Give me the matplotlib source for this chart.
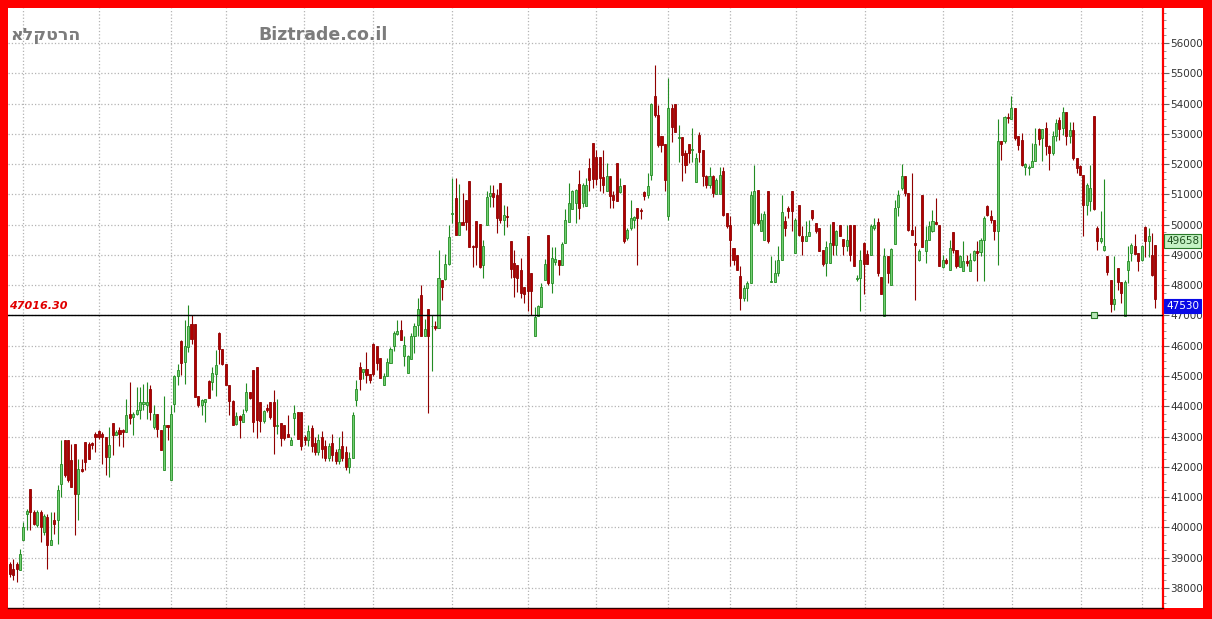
import matplotlib
matplotlib.use("Agg")
import matplotlib.pyplot as plt
from matplotlib.patches import Rectangle
from matplotlib.ticker import MultipleLocator
import numpy as np

# daily candles
opens = [
    38805, 38640, 38805, 38607, 39597, 40455, 41258, 40510, 40070, 40510, 39850, 40345, 39410, 40235, 40257,
    41445, 42875, 42875, 42215, 42765, 41093, 41940, 42820, 42765, 42787, 43095, 43183, 43095, 42985, 42325,
    43447, 43040, 43205, 43205, 43150, 43733, 43645, 43733, 43887, 44085, 44030, 44580, 43315, 43755, 43227,
    41907, 43370, 41555, 44085, 44987, 46153, 45460, 45955, 46703, 46725, 44327, 44030, 44140, 44833, 44800,
    45075, 46428, 45900, 45383, 44690, 44173, 43403, 43667, 43480, 43887, 44470, 45207, 45295, 44140, 43502,
    43953, 44140, 44140, 43337, 43447, 43370, 43095, 42710, 43612, 43810, 43810, 42985,
    42900, 43300, 42800, 42500, 43000, 42700, 42300, 42800, 42500, 42200, 42700, 42500, 42000, 42300,
    44217, 45284, 45119, 45229, 45075, 46054, 45977, 45592, 44712, 44987, 45427, 45977, 46395, 46505, 45647,
    45097, 45559, 46329, 46692, 47682, 46307, 47209, 46637, 46637, 46582, 48177, 48199, 48705, 50344, 50872,
    49662, 50102, 50817, 51455, 49299, 50135, 50025, 48672, 49992, 50949, 51059, 50982, 51389, 50157, 50289,
    49475, 48727, 48672, 48507, 47935, 49629, 48419, 46307, 46967, 47297, 48177, 49662, 48067, 48782, 48837,
    48672, 49409, 50102, 50509, 50729, 51345, 50707,
    50600, 51865, 52712, 52250, 52250, 51568, 51095, 51590, 50985, 52052, 51062, 51315, 49555, 49885, 50150,
    50545, 50490, 51073, 50985, 51645, 54252, 53625, 52932, 52668, 50292, 53845, 53988, 52855, 52888, 52360,
    52668, 52470, 51392, 52965, 52470, 51612, 51315, 51612, 51018, 51018, 51755, 50380, 49995, 49225, 49005,
    48290, 47575, 47905, 48070, 50050, 51128, 49775, 49500, 51117, 48092, 48092, 48400, 48840, 50105, 50545,
    51095, 49060, 50655, 49632, 49445, 49610, 50490, 50050, 49885, 49148, 48730, 48730, 50072, 49335, 49995,
    49522, 49280, 49995, 49995, 48202, 48235, 49390, 49038, 49005, 49885, 50100,
    48269, 46971, 48951, 48016, 49369, 50579, 51206, 51613, 51041, 49831, 49391, 48819, 50986, 49116, 49501,
    49776, 50073, 49996, 48599, 48841, 48511, 49743, 49149, 48599, 48456, 48786, 48456, 48819, 49116, 49083,
    49501, 50623, 50293, 50139, 49776, 52746, 52746, 53571, 53483, 53846, 52911, 52801, 51899, 51866, 51899,
    52086, 53153, 52856, 53186, 52581, 52361, 52911, 53461, 53186, 53736, 52911, 53131, 52196, 51921, 51646,
    50656, 50766, 53593, 49886, 49446, 49171, 48973, 48181, 47389, 48566, 48093, 46971, 48511, 49061, 49303,
    49061, 48841, 49919, 49446, 49006, 49336,
]
highs = [
    38860, 38970, 38860, 39300, 40180, 40620, 41280, 40565, 40565, 40565, 40455, 40455, 40510, 40510, 41390,
    42875, 42875, 42875, 42765, 42765, 42270, 42270, 42820, 42820, 42820, 43150, 43205, 43150, 42985, 43315,
    43447, 43205, 43315, 43260, 44250, 44800, 43810, 44635, 44635, 44745, 44800, 44690, 44030, 43755, 43227,
    44327, 43370, 44030, 45020, 45405, 46175, 46835, 47352, 47000, 46725, 44327, 44250, 44250, 44855, 45295,
    45845, 46450, 45900, 45383, 44690, 44195, 43810, 43700, 43920, 44767, 44470, 45207, 45295, 44140, 43887,
    44085, 44140, 44547, 44250, 43447, 43370, 43700, 42985, 44030, 43810, 43810, 43040,
    43400, 43400, 43000, 43100, 43200, 42900, 42800, 43100, 42600, 43000, 43200, 42700, 42500, 43800,
    44877, 45449, 45229, 45779, 45075, 46087, 45977, 45592, 45097, 45592, 45955, 46472, 46857, 46835, 46307,
    45702, 46417, 46747, 47572, 48012, 46879, 47209, 47022, 46802, 49167, 48177, 49035, 49992, 51532, 51532,
    51345, 51059, 50817, 51455, 49332, 50135, 50025, 49497, 51125, 51312, 51312, 51169, 51389, 50652, 50619,
    49475, 49167, 48672, 48892, 47935, 49629, 48419, 47297, 47352, 48089, 48859, 49662, 49277, 49255, 48837,
    49442, 50509, 51367, 51147, 51169, 51807, 51367,
    51535, 52195, 52712, 52470, 52250, 52470, 52052, 51590, 51095, 52052, 51535, 51315, 49885, 50798, 50300,
    50545, 50545, 51095, 51700, 54010, 55275, 53955, 52932, 52668, 54835, 53988, 53988, 53295, 52888, 52470,
    52668, 53185, 52360, 53075, 52470, 51645, 51920, 51645, 51535, 51920, 51920, 50380, 50270, 49225, 49005,
    48620, 48015, 48125, 51095, 51975, 51128, 50380, 50435, 51117, 48950, 48840, 49280, 50985, 50270, 50600,
    51095, 50215, 50655, 49940, 50105, 50160, 50490, 50050, 49885, 49148, 49445, 50017, 50072, 49830, 49995,
    49522, 49995, 49995, 49995, 48345, 49170, 49412, 49170, 50028, 50215, 50215,
    48269, 49226, 48951, 49226, 50821, 51151, 52009, 51613, 51041, 51701, 49941, 49193, 50986, 49941, 50106,
    50491, 50876, 49996, 49006, 48896, 49501, 49743, 49149, 49006, 49446, 49006, 49061, 49171, 49446, 49556,
    50271, 50656, 50491, 50161, 53483, 52746, 53593, 53703, 54253, 53846, 52911, 53021, 52031, 51976, 52691,
    53186, 53186, 53153, 53406, 52636, 53076, 53483, 53571, 53901, 53736, 53406, 53406, 52196, 51976, 51646,
    51371, 51976, 53593, 49941, 50436, 51503, 48973, 48181, 48973, 48566, 48093, 48159, 49281, 49391, 49699,
    49061, 49336, 49941, 49886, 49726, 49336,
]
lows = [
    38365, 38255, 38200, 38585, 39575, 39905, 39905, 40070, 40015, 39520, 39740, 38640, 39410, 39795, 39465,
    41005, 41665, 41500, 41335, 39740, 40235, 41830, 41885, 42270, 42600, 42490, 42930, 42105, 41720, 41665,
    42380, 43040, 42677, 42655, 43150, 43425, 43040, 43700, 43590, 43865, 43590, 43535, 43260, 42985, 42545,
    41885, 42875, 41555, 43810, 44690, 45020, 44745, 45790, 46065, 44305, 43975, 43700, 43480, 44283, 44525,
    44327, 45405, 45350, 44690, 43700, 43370, 43370, 42952, 43480, 43810, 44250, 43150, 42952, 43150, 43447,
    43810, 43590, 42435, 43095, 42677, 42897, 42985, 42710, 43040, 42930, 42567, 42710,
    42700, 42500, 42400, 42400, 42300, 42200, 42200, 42200, 42100, 42100, 42200, 41900, 41800, 42300,
    43997, 44547, 44899, 44767, 44767, 44987, 45207, 44932, 44712, 44987, 45427, 45812, 46362, 46197, 45317,
    45097, 45559, 45757, 46307, 46307, 46307, 43777, 45152, 46527, 46582, 47517, 48177, 48672, 50047, 49662,
    49662, 49992, 49827, 49255, 48617, 48672, 48562, 48232, 49992, 50597, 50597, 49717, 50047, 49662, 49937,
    48232, 47627, 47792, 47572, 47407, 47132, 47000, 46307, 46967, 47297, 48177, 48012, 47759, 48672, 48342,
    48672, 49409, 50102, 50509, 50047, 50179, 50597,
    50600, 51095, 51205, 51315, 51095, 51040, 51095, 50545, 50545, 50765, 51040, 49390, 49500, 49830, 49900,
    48675, 50182, 50798, 50875, 51480, 53570, 52580, 52415, 51095, 50160, 52745, 53075, 52085, 51425, 51700,
    52030, 52085, 51392, 52085, 51260, 51205, 51205, 50908, 51018, 51018, 50270, 49885, 48620, 48675, 48510,
    47190, 47465, 47465, 48070, 49995, 49995, 49775, 49500, 49390, 48092, 48092, 48290, 48840, 49610, 50215,
    49775, 49060, 49610, 49005, 49445, 49610, 50160, 49720, 49115, 48620, 48290, 48730, 49005, 49005, 49610,
    49005, 49115, 48785, 48620, 48125, 47135, 47715, 48708, 49005, 49830, 48300,
    47719, 46971, 48071, 48016, 49369, 50293, 51151, 50931, 49776, 49666, 47521, 48786, 49259, 48731, 49501,
    49743, 50029, 48621, 48566, 48709, 48511, 49061, 48566, 48599, 48456, 48621, 48456, 48786, 48126, 48951,
    48126, 50293, 50051, 49501, 48676, 52141, 52691, 53351, 53483, 52801, 52471, 51921, 51646, 51646, 51899,
    52086, 52636, 52086, 52306, 51811, 52306, 52746, 52801, 52966, 52636, 52691, 52141, 51701, 51646, 49611,
    50326, 50436, 50491, 49171, 49391, 49116, 48346, 47114, 47191, 47851, 47411, 46971, 48071, 48786, 49039,
    48456, 48786, 48941, 48941, 48291, 47246,
]
closes = [
    38475, 38420, 38640, 39135, 40015, 40532, 40510, 40125, 40510, 40015, 40367, 39410, 39597, 40125, 41247,
    42105, 41720, 41555, 41335, 41093, 41940, 41863, 42160, 42270, 42710, 42985, 42985, 42985, 42325, 42710,
    43040, 43150, 43095, 43150, 43700, 43612, 43755, 43887, 44140, 44140, 44140, 43810, 43733, 43260, 42545,
    43370, 43315, 43733, 44987, 45207, 45427, 45977, 46637, 46230, 44305, 44030, 44195, 44250, 44283, 45097,
    45350, 45900, 45383, 44690, 44162, 43370, 43667, 43535, 43733, 44470, 44283, 43480, 43535, 43513, 43843,
    43887, 43645, 43337, 43370, 42963, 42963, 42985, 42875, 43777, 42930, 42677, 42897,
    43200, 42700, 42500, 42900, 42600, 42300, 42700, 42400, 42200, 42600, 42300, 42000, 42300, 43700,
    44580, 44899, 45229, 45042, 44855, 45075, 45427, 44932, 44987, 45449, 45900, 46417, 46472, 46197, 46032,
    45647, 46329, 46659, 47209, 46307, 46549, 46307, 46659, 46582, 48232, 47957, 48705, 49607, 50399, 49662,
    50102, 49992, 50102, 49277, 49255, 49277, 48617, 49299, 50927, 51059, 50927, 50212, 50157, 50322, 50267,
    48529, 48265, 48232, 47737, 47715, 47825, 47825, 46945, 47319, 47957, 48705, 48067, 48892, 48859, 48672,
    49365, 50157, 50729, 51125, 51147, 50542, 51312,
    51315, 51480, 51502, 51502, 51535, 51315, 51590, 50930, 50820, 50765, 51282, 49445, 49830, 50215, 50250,
    50215, 50435, 50952, 51260, 53988, 53625, 52635, 52635, 51480, 53845, 53240, 53075, 52888, 52305, 51975,
    52382, 52492, 52195, 52415, 51590, 51315, 51590, 51040, 51480, 51645, 50325, 49940, 49500, 48840, 48510,
    47575, 47905, 48070, 50985, 51095, 50050, 50160, 50358, 49445, 48125, 48400, 48840, 50402, 49885, 50435,
    50435, 50160, 49665, 49445, 49610, 49742, 50215, 49775, 49115, 48708, 49258, 49390, 49335, 49775, 49610,
    49280, 49500, 48995, 48620, 48235, 48840, 48708, 48708, 49940, 49995, 48400,
    47719, 48951, 48401, 49193, 50546, 50986, 51613, 51041, 49831, 49666, 49336, 49116, 49259, 49501, 49941,
    50106, 50029, 48621, 48819, 48731, 49226, 49149, 48621, 48951, 48808, 48731, 48819, 49116, 49061, 49479,
    50216, 50326, 50139, 49776, 52746, 52669, 53571, 53516, 53846, 52856, 52636, 51976, 52009, 51899, 52086,
    52669, 52823, 53153, 52581, 52361, 52911, 53351, 53153, 53736, 52911, 53131, 52196, 51866, 51646, 50656,
    51316, 51206, 50513, 49446, 49556, 49281, 48423, 47389, 47543, 48093, 47741, 48093, 48786, 49336, 49039,
    48786, 49281, 49446, 49611, 48346, 47530,
]

level = 47016.30
level_idx = 316
side_value = 49658
last_value = 47530
yticks = list(range(38000, 57000, 1000))
month_lines = [3.9, 25.9, 46.9, 63.1, 85.8, 105.9, 128.9, 151.1, 170.9, 191.9, 210.0,
               229.3, 249.4, 272.1, 292.2, 312.3, 330.0]

o = np.array(opens)
h = np.array(highs)
l = np.array(lows)
c = np.array(closes)
x = np.arange(len(c))
up = c >= o

W, H = 1212, 619
fig = plt.figure(figsize=(W / 100, H / 100), dpi=100)
fig.patch.set_facecolor("#ff0000")
fig.add_artist(Rectangle((8 / W, 11 / H), (1203 - 8) / W, (608 - 8) / H,
                         transform=fig.transFigure, facecolor="white",
                         edgecolor="none", zorder=0))

ax = fig.add_axes([8 / W, 11 / H, (1163 - 8) / W, (608 - 8) / H])
ax.set_facecolor("white")
ax.set_xlim(-0.5, 336.2)
ax.set_ylim(37341, 57154)

# grid
for gx in month_lines:
    ax.axvline(gx, color="#b4b4b4", ls=":", lw=0.9, zorder=1)
for gy in yticks:
    ax.axhline(gy, color="#b4b4b4", ls=":", lw=0.9, zorder=1)

# candles
green_fill, green_edge = "#72cf72", "#238c23"
red_fill, red_edge = "#b00000", "#900000"
wick_col = np.where(up, green_edge, red_edge)
ax.vlines(x, l, h, colors=wick_col, lw=0.8, zorder=2)
body_h = np.maximum(np.abs(c - o), 25)
body_b = np.minimum(o, c)
ax.bar(x[up], body_h[up], bottom=body_b[up], width=0.6, color=green_fill,
       edgecolor=green_edge, linewidth=0.6, zorder=3)
ax.bar(x[~up], body_h[~up], bottom=body_b[~up], width=0.6, color=red_fill,
       edgecolor=red_edge, linewidth=0.6, zorder=3)

# level line
ax.axhline(level, color="black", lw=1.0, zorder=4)
ax.plot(level_idx, level, marker="s", ms=4.5, mfc="#b8e8b8", mec="#2a7a2a",
        mew=0.8, zorder=5)
ax.annotate(f"{level:.2f}", xy=(0, level), xycoords=("axes fraction", "data"),
            xytext=(1, 3), textcoords="offset points", ha="left", va="bottom",
            color="#e00000", fontsize=8, fontweight="bold", fontstyle="italic")

# right axis
ax.yaxis.tick_right()
ax.set_yticks(yticks)
ax.set_yticklabels([str(t) for t in yticks])
ax.yaxis.set_minor_locator(MultipleLocator(250))
ax.tick_params(axis="y", which="major", length=4, width=0.8, color="#666666",
               labelsize=7.5, labelcolor="#333333", pad=1.5)
ax.tick_params(axis="y", which="minor", length=2, width=0.6, color="#888888")
ax.set_xticks([])

for side in ["left", "top"]:
    ax.spines[side].set_visible(False)
ax.spines["right"].set_color("#ff0000")
ax.spines["right"].set_linewidth(1.6)
ax.spines["bottom"].set_color("#300000")
ax.spines["bottom"].set_linewidth(1.0)

# price boxes on the right
ax.annotate(str(side_value), xy=(1, side_value), xycoords=("axes fraction", "data"),
            xytext=(2.2, -4.5), textcoords="offset points", ha="left", va="center",
            fontsize=7.5, color="#1e4e1e", annotation_clip=False, zorder=6,
            bbox=dict(boxstyle="square,pad=0.2", fc="#c4f2c4", ec="#2a7a2a", lw=0.8))
ax.annotate(str(last_value), xy=(1, last_value), xycoords=("axes fraction", "data"),
            xytext=(2.2, -4.5), textcoords="offset points", ha="left", va="center",
            fontsize=7.5, color="white", annotation_clip=False, zorder=6,
            bbox=dict(boxstyle="square,pad=0.2", fc="#0a0ae6", ec="#0a0ae6", lw=0.8))

# header texts
fig.text(10 / W, 1 - 35 / H, "אלקטרה", ha="left", va="center",
         fontsize=12.5, fontweight="bold", color="#7c7c7c", family="DejaVu Sans")
fig.text(258 / W, 1 - 35 / H, "Biztrade.co.il", ha="left", va="center",
         fontsize=12.5, fontweight="bold", color="#7c7c7c")

fig.savefig("out.png", dpi=100, facecolor=fig.get_facecolor())
